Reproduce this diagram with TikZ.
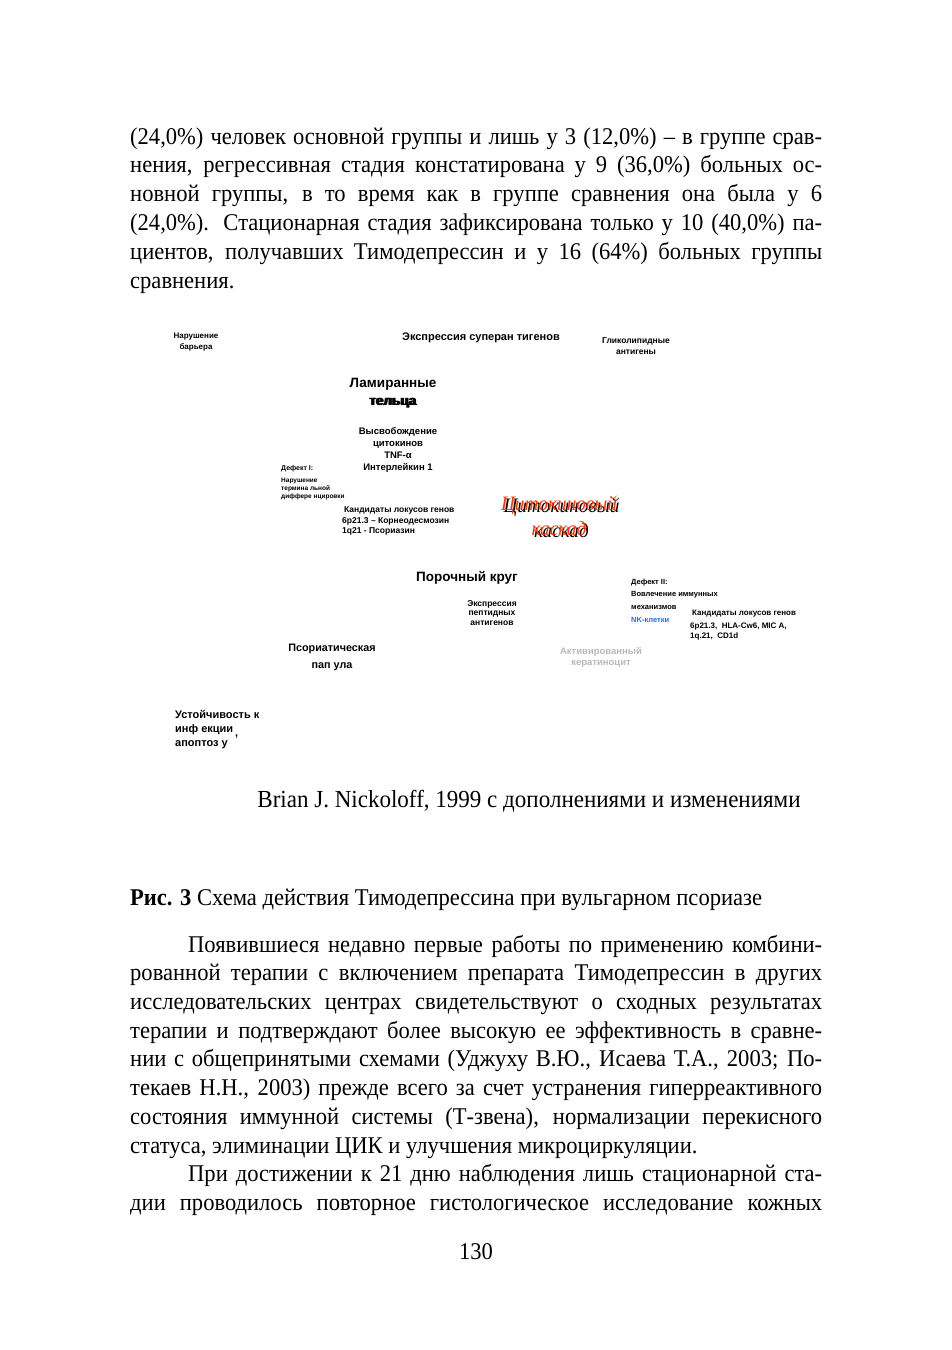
\documentclass[tikz,border=0pt]{standalone}
\usepackage{fontspec}
\setmainfont[FakeStretch=0.94]{Liberation Serif}
\newfontfamily\schema{Liberation Sans}

\definecolor{rougecasc}{RGB}{255,51,0}
\definecolor{bleunk}{RGB}{30,110,235}
\definecolor{grisact}{RGB}{185,185,185}

\newcommand\ombre[1]{\rlap{\kern2.5pt\raisebox{-1.5pt}{#1}}\textcolor{rougecasc}{#1}}

\tikzset{
  ligne/.style={anchor=base west, inner sep=0pt, font=\fontsize{24}{29}\selectfont},
  etiq/.style 2 args={font=\schema\bfseries\fontsize{#1}{#2}\selectfont, align=center, inner sep=0pt},
}

\begin{document}
\begin{tikzpicture}[x=1pt, y=-1pt]

\useasboundingbox (0,0) rectangle (951,1350);

% Texte au-dessus du schema
\foreach \ligne [count=\n from 0] in {
    {(24,0\%) человек основной группы и лишь у 3 (12,0\%) – в группе срав-},
    {нения, регрессивная стадия констатирована у 9 (36,0\%) больных ос-},
    {новной группы, в то время как в группе сравнения она была у 6},
    {(24,0\%). Стационарная стадия зафиксирована только у 10 (40,0\%) па-},
    {циентов, получавших Тимодепрессин и у 16 (64\%) больных группы}} {
    \node[ligne] (haut\n) at (130,{144+28.8*\n}) {\makebox[692pt][s]{\ligne}};
}
\node[ligne] (haut5) at (130,288) {сравнения.};

% Etiquettes du schema
\node[etiq={8}{11}] (narush) at (196,342) {Нарушение\\барьера};
\node[etiq={11}{13}] (superant) at (481,338) {Экспрессия суперан тигенов};
\node[etiq={8.5}{10.5}] (glikolip) at (636,346) {Гликолипидные\\антигены};
\node[etiq={13.5}{18}] (lamir) at (393,393) {Ламиранные\\\rlap{тельца}\kern1.5pt тельца};
\node[etiq={9.5}{11.7}] (vysvob) at (398,450) {Высвобождение\\цитокинов\\TNF-α\\Интерлейкин 1};
\node[etiq={7}{9}, anchor=west] (defekt1) at (281,469) {Дефект I:};
\node[etiq={6.5}{8}, align=left, anchor=west] (terminal) at (281,489) {Нарушение\\термина льной\\диффере нцировки};
\node[etiq={8.5}{10.5}, align=left, anchor=west] (kandid1) at (342,521)
    {\hspace*{2pt}Кандидаты локусов генов\\6р21.3 – Корнеодесмозин\\1q21 - Псориазин};

% Cytokine cascade: red over a black shadow
\node[font=\itshape\fontsize{20.5}{25}\selectfont, align=center, inner sep=0pt] (casc) at (559,517)
    {\ombre{Цитокиновый}\\\ombre{каскад}};

\node[etiq={13.5}{15}] (porochn) at (467,578) {Порочный круг};
\node[etiq={8.5}{9.5}] (peptid) at (492,613) {Экспрессия\\пептидных\\антигенов};
\node[etiq={7.5}{12.5}, align=left, anchor=west] (defekt2) at (631,594) {Дефект II:\\Вовлечение иммунных\\механизмов};
\node[etiq={7.5}{9}, anchor=west, text=bleunk] (nk) at (631,620) {NK-клетки};
\node[etiq={8}{10}, align=left, anchor=west] (kandid2) at (690,625)
    {\hspace*{2pt}Кандидаты локусов генов\\[3pt]6р21.3, ~HLA-Cw6, MIC A,\\1q.21, ~CD1d};
\node[etiq={10.8}{17}] (psor) at (332,657) {Псориатическая\\пап ула};
\node[etiq={9.5}{11}, text=grisact] (aktiv) at (601,657) {Активированный\\кератиноцит};
\node[etiq={11}{14}, align=left, anchor=west] (ustoi) at (175,730) {Устойчивость к\\инф екции\,\raisebox{-4pt}{,}\\апоптоз у};

% Texte sous le schema
\node[anchor=base, inner sep=0pt, font=\fontsize{24.5}{29}\selectfont] (source) at (529,807) {Brian J. Nickoloff, 1999 с дополнениями и изменениями};
\node[ligne] (legende) at (130,905) {\textbf{Рис. 3} Схема действия Тимодепрессина при вульгарном псориазе};

\foreach \ligne [count=\n from 0] in {
    {\hspace*{58pt}Появившиеся недавно первые работы по применению комбини-},
    {рованной терапии с включением препарата Тимодепрессин в других},
    {исследовательских центрах свидетельствуют о сходных результатах},
    {терапии и подтверждают более высокую ее эффективность в сравне-},
    {нии с общепринятыми схемами (Уджуху В.Ю., Исаева Т.А., 2003; По-},
    {текаев Н.Н., 2003) прежде всего за счет устранения гиперреактивного},
    {состояния иммунной системы (Т-звена), нормализации перекисного}} {
    \node[ligne] (bas\n) at (130,{952+28.7*\n}) {\makebox[692pt][s]{\ligne}};
}
\node[ligne] (bas7) at (130,1153) {статуса, элиминации ЦИК и улучшения микроциркуляции.};
\foreach \ligne [count=\n from 8] in {
    {\hspace*{58pt}При достижении к 21 дню наблюдения лишь стационарной ста-},
    {дии проводилось повторное гистологическое исследование кожных}} {
    \node[ligne] (bas\n) at (130,{952+28.7*\n}) {\makebox[692pt][s]{\ligne}};
}

% Numero de page
\node[anchor=base, inner sep=0pt, font=\fontsize{24}{29}\selectfont] (page) at (476,1259) {130};

\end{tikzpicture}
\end{document}
